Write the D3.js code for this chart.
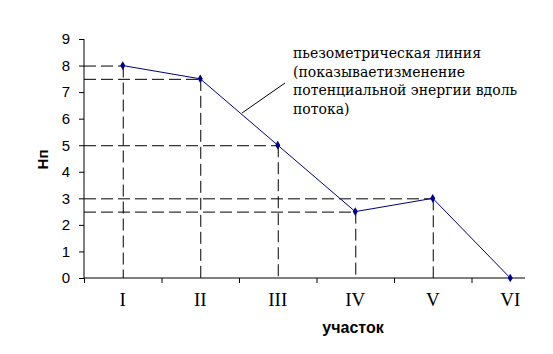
<!DOCTYPE html>
<html>
<head>
<meta charset="utf-8">
<script src="https://cdn.jsdelivr.net/npm/d3@7"></script>
<style>
  body { margin: 0; background: #fff; }
  svg { display: block; }
</style>
</head>
<body>
<div id="chart"></div>
<script>
const sections = ["I", "II", "III", "IV", "V", "VI"];
const heads = [8, 7.5, 5, 2.5, 3, 0];
const yTicks = [0, 1, 2, 3, 4, 5, 6, 7, 8, 9];
const noteLines = [
  "пьезометрическая линия",
  "(показываетизменение",
  "потенциальной энергии вдоль",
  "потока)"
];

const width = 553, height = 354;
const plotLeft = 84, plotRight = 549, plotTop = 39, plotBottom = 278, axisEnd = 525;

const svg = d3.select("#chart").append("svg")
  .attr("width", width)
  .attr("height", height);

const x = d3.scaleBand().domain(sections).range([plotLeft, plotRight]).padding(0);
const cx = d => x(d) + x.bandwidth() / 2;
const y = d3.scaleLinear().domain([0, 9]).range([plotBottom, plotTop]);

// y axis
const yAxis = svg.append("g")
  .attr("transform", `translate(${plotLeft},0)`)
  .call(d3.axisLeft(y).tickValues(yTicks).tickSize(5).tickPadding(9));
yAxis.select(".domain").attr("stroke", "#000").attr("d", `M0,${y(9)}V${y(0)}`);
yAxis.selectAll(".tick line").attr("stroke", "#000");
yAxis.selectAll("text")
  .style("font-family", "'Liberation Sans', Arial, sans-serif")
  .style("font-size", "15px")
  .attr("fill", "#000");

// x axis: ticks on section boundaries
const edges = d3.range(sections.length).map(i => x(sections[i]));
const xAxis = svg.append("g")
  .attr("transform", `translate(0,${plotBottom})`)
  .call(d3.axisBottom(d3.scaleLinear().domain([plotLeft, plotRight]).range([plotLeft, plotRight]))
    .tickValues(edges).tickSize(5).tickFormat(""));
xAxis.select(".domain").attr("stroke", "#000").attr("d", `M${plotLeft},0H${axisEnd}`);
xAxis.selectAll(".tick line").attr("stroke", "#000");

svg.append("g").selectAll("text")
  .data(sections)
  .join("text")
  .attr("x", d => cx(d))
  .attr("y", 306)
  .attr("text-anchor", "middle")
  .style("font-family", "'Liberation Serif', 'Times New Roman', serif")
  .style("font-size", "19px")
  .text(d => d);

// dashed guides
const pts = sections.map((s, i) => ({ s, v: heads[i] })).filter(d => d.v > 0);
const guides = svg.append("g")
  .attr("stroke", "#000")
  .attr("stroke-width", 1)
  .attr("stroke-dasharray", "12,5");
guides.selectAll(".h").data(pts).join("line")
  .attr("x1", plotLeft).attr("x2", d => cx(d.s))
  .attr("y1", d => y(d.v) + 0.5).attr("y2", d => y(d.v) + 0.5);
guides.selectAll(".v").data(pts).join("line")
  .attr("x1", d => cx(d.s) + 0.5).attr("x2", d => cx(d.s) + 0.5)
  .attr("y1", d => y(d.v)).attr("y2", plotBottom);

// series
const data = sections.map((s, i) => ({ s, v: heads[i] }));
svg.append("path")
  .datum(data)
  .attr("fill", "none")
  .attr("stroke", "#000080")
  .attr("stroke-width", 1)
  .attr("d", d3.line().x(d => cx(d.s)).y(d => y(d.v)));

svg.append("g").selectAll("path")
  .data(data)
  .join("path")
  .attr("transform", d => `translate(${cx(d.s)},${y(d.v)})`)
  .attr("d", d3.symbol(d3.symbolDiamond, 22))
  .attr("fill", "#000080");

// annotation
svg.append("line")
  .attr("x1", 285).attr("y1", 83)
  .attr("x2", 242).attr("y2", 113)
  .attr("stroke", "#000");

svg.append("g").selectAll("text")
  .data(noteLines)
  .join("text")
  .attr("x", 293)
  .attr("y", (d, i) => 58 + i * 18.5)
  .style("font-family", "'DejaVu Serif', serif")
  .style("font-size", "14px")
  .text(d => d);

// titles
svg.append("text")
  .attr("transform", `translate(48,${(plotTop + plotBottom) / 2 + 1}) rotate(-90)`)
  .attr("text-anchor", "middle")
  .style("font-family", "'Liberation Sans', Arial, sans-serif")
  .style("font-size", "15px")
  .style("font-weight", "bold")
  .text("Нп");

svg.append("text")
  .attr("x", 353)
  .attr("y", 333)
  .attr("text-anchor", "middle")
  .style("font-family", "'Liberation Sans', Arial, sans-serif")
  .style("font-size", "16px")
  .style("font-weight", "bold")
  .text("участок");
</script>
</body>
</html>
